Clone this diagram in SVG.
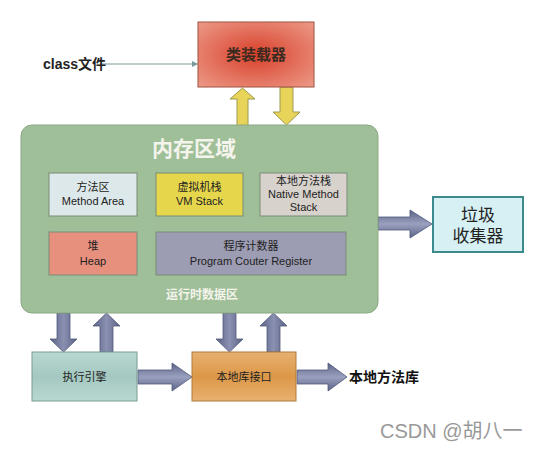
<svg xmlns="http://www.w3.org/2000/svg" width="534" height="449" viewBox="0 0 534 449">
<defs>
<radialGradient id="gRed" cx="0.5" cy="0.5" r="0.7"><stop offset="0" stop-color="#d8402a"/><stop offset="1" stop-color="#ec9a88"/></radialGradient>
<linearGradient id="gArrH" x1="0" y1="0" x2="0" y2="1"><stop offset="0" stop-color="#5c6488"/><stop offset="0.5" stop-color="#9aa0be"/><stop offset="1" stop-color="#5c6488"/></linearGradient>
<linearGradient id="gArrV" x1="0" y1="0" x2="1" y2="0"><stop offset="0" stop-color="#5c6488"/><stop offset="0.5" stop-color="#8a90b0"/><stop offset="1" stop-color="#5c6488"/></linearGradient>
<linearGradient id="gOrange" x1="0" y1="0" x2="0" y2="1"><stop offset="0" stop-color="#e8b070"/><stop offset="0.5" stop-color="#dc9848"/><stop offset="1" stop-color="#e8b070"/></linearGradient>
<linearGradient id="gTeal" x1="0" y1="0" x2="0" y2="1"><stop offset="0" stop-color="#b8d8d2"/><stop offset="0.5" stop-color="#a4c8c0"/><stop offset="1" stop-color="#b8d8d2"/></linearGradient>
<marker id="thin" markerWidth="6" markerHeight="6" refX="5" refY="3" orient="auto"><path d="M0,0 L6,3 L0,6 z" fill="#7a9a9a"/></marker>
</defs>
<style>
.cn{font-family:"Liberation Sans","Noto Sans CJK SC",sans-serif}
.inner{stroke:#7a8a78;stroke-width:1}
.t{font-family:"Liberation Sans","Noto Sans CJK SC",sans-serif;font-size:11px;fill:#222;text-anchor:middle}
.yarr{fill:#e8d458;stroke:#9a9a50;stroke-width:1}
.garr{stroke:#505878;stroke-width:0.8}
</style>
<rect width="534" height="449" fill="#ffffff"/>

<g id="connectors">
<line x1="100" y1="64" x2="197" y2="64" stroke="#7a9a9a" stroke-width="1" marker-end="url(#thin)"/>
<path class="yarr" d="M237,126 L237,99 L230,99 L242.5,88 L255,99 L248,99 L248,126 z"/>
<path class="yarr" d="M280,87 L280,112 L273,112 L286.5,125 L300,112 L293,112 L293,87 z"/>
<path class="garr" fill="url(#gArrH)" d="M378,217 L410,217 L410,210 L432,224 L410,238 L410,230 L378,230 z"/>
<path class="garr" fill="url(#gArrV)" d="M57,313 L57,339 L50,339 L63.5,352 L77,339 L70,339 L70,313 z"/>
<path class="garr" fill="url(#gArrV)" d="M100,352 L100,326 L93,326 L106.5,313 L120,326 L113,326 L113,352 z"/>
<path class="garr" fill="url(#gArrV)" d="M223,313 L223,339 L216,339 L229.5,352 L243,339 L236,339 L236,313 z"/>
<path class="garr" fill="url(#gArrV)" d="M267,352 L267,326 L260,326 L273.5,313 L287,326 L280,326 L280,352 z"/>
<path class="garr" fill="url(#gArrH)" d="M138,370 L172,370 L172,363 L192,377 L172,391 L172,384 L138,384 z"/>
<path class="garr" fill="url(#gArrH)" d="M297,370 L328,370 L328,363 L347,377 L328,391 L328,384 L297,384 z"/>
</g>

<g id="classfile">
<text x="43" y="69" class="cn" font-size="14" font-weight="bold" fill="#222">class文件</text>
</g>

<g id="classloader">
<rect x="198" y="22" width="116" height="65" fill="url(#gRed)" stroke="#a05040" stroke-width="1"/>
<text x="256" y="60" class="cn" font-size="15" font-weight="bold" fill="#3a2a20" text-anchor="middle">类装载器</text>
</g>

<g id="memory">
<rect x="21" y="125" width="357" height="188" rx="11" fill="#9fbf98" stroke="#8aa884" stroke-width="1"/>
<text x="194" y="156" class="cn" font-size="21" font-weight="bold" fill="#f4f4ec" text-anchor="middle">内存区域</text>
<text x="202" y="299" class="cn" font-size="12" font-weight="bold" fill="#f4f4ec" text-anchor="middle">运行时数据区</text>
</g>

<g id="method-area">
<rect class="inner" x="49" y="173" width="88" height="43" fill="#dde8ea"/>
<text class="t" x="93" y="191">方法区</text>
<text class="t" x="93" y="205">Method Area</text>
</g>
<g id="vm-stack">
<rect class="inner" x="156" y="173" width="87" height="43" fill="#e6d64c"/>
<text class="t" x="199.5" y="191">虚拟机栈</text>
<text class="t" x="199.5" y="205">VM Stack</text>
</g>
<g id="native-stack">
<rect class="inner" x="260" y="173" width="87" height="43" fill="#d8d2cc"/>
<text class="t" x="303.5" y="185">本地方法栈</text>
<text class="t" x="303.5" y="198">Native Method</text>
<text class="t" x="303.5" y="211">Stack</text>
</g>
<g id="heap">
<rect class="inner" x="49" y="232" width="88" height="43" fill="#e8907e"/>
<text class="t" x="93" y="250">堆</text>
<text class="t" x="93" y="265">Heap</text>
</g>
<g id="pc-register">
<rect class="inner" x="156" y="232" width="190" height="43" fill="#9c9cb2"/>
<text class="t" x="251" y="250">程序计数器</text>
<text class="t" x="251" y="265">Program Couter Register</text>
</g>

<g id="gc">
<rect x="433" y="197" width="90" height="55" fill="#d6f0f4" stroke="#3a8a8e" stroke-width="2"/>
<text x="478" y="221" class="cn" font-size="17" fill="#222" text-anchor="middle">垃圾</text>
<text x="478" y="242" class="cn" font-size="17" fill="#222" text-anchor="middle">收集器</text>
</g>

<g id="exec-engine">
<rect x="32" y="352" width="105" height="49" fill="url(#gTeal)" stroke="#7a9a94" stroke-width="1"/>
<text class="t" x="84.5" y="381">执行引擎</text>
</g>
<g id="native-interface">
<rect x="192" y="352" width="104" height="49" fill="url(#gOrange)" stroke="#b07a3a" stroke-width="1"/>
<text class="t" x="244" y="381">本地库接口</text>
</g>
<g id="native-lib">
<text x="349" y="382" class="cn" font-size="14" font-weight="bold" fill="#111">本地方法库</text>
</g>

<text x="380" y="438" class="cn" font-size="20" fill="#999">CSDN @胡八一</text>
</svg>
